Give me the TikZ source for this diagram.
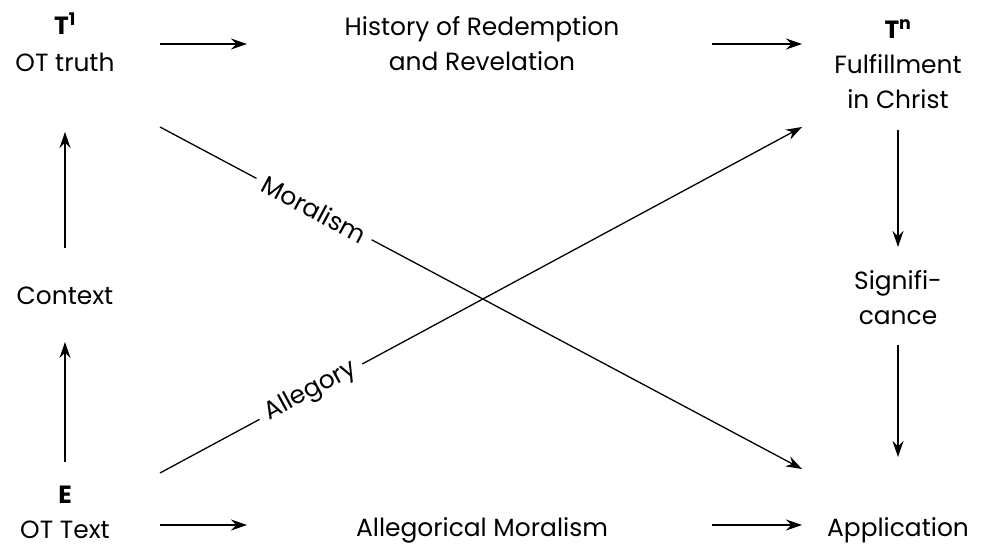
\documentclass[tikz,border=0pt]{standalone}
\usepackage{fontspec}
\setmainfont{Poppins}
\usetikzlibrary{arrows.meta}
\begin{document}
\begin{tikzpicture}[x=1bp,y=-1bp,
  lbl/.style={font=\fontsize{25}{35}\selectfont, align=center, inner sep=2pt},
  arr/.style={line width=1.3bp, -{Stealth[length=16bp,width=11bp]}},
  ln/.style={line width=1.3bp}]
\useasboundingbox (0,0) rectangle (990,559);
\node[lbl] (t1) at (65,42) {\textbf{T\textsuperscript{1}}\\[2pt]OT truth};
\node[lbl] (hist) at (482,44) {History of Redemption\\and Revelation};
\node[lbl] (tn) at (898,64) {\textbf{T\textsuperscript{n}}\\Fulfillment\\in Christ};
\node[lbl] (ctx) at (65,296) {Context};
\node[lbl] (e) at (65,512) {\textbf{E}\\OT Text};
\node[lbl] (am) at (482,530) {Allegorical Moralism};
\node[lbl] (app) at (898,530) {Application};
\node[lbl] (sig) at (898,298) {Signifi-\\cance};
\coordinate (a1) at (160,44); \coordinate (a2) at (247,44);
\coordinate (b1) at (712,44); \coordinate (b2) at (802,44);
\coordinate (c1) at (65,248); \coordinate (c2) at (65,132);
\coordinate (d1) at (65,462); \coordinate (d2) at (65,342);
\coordinate (f1) at (898,130); \coordinate (f2) at (898,247);
\coordinate (g1) at (898,345); \coordinate (g2) at (898,457);
\coordinate (h1) at (160,525); \coordinate (h2) at (247,525);
\coordinate (i1) at (712,525); \coordinate (i2) at (802,525);
\coordinate (m1) at (160,127); \coordinate (m2) at (802,469);
\coordinate (l1) at (160,473); \coordinate (l2) at (802,127);
\foreach \p/\q in {a1/a2,b1/b2,c1/c2,d1/d2,f1/f2,g1/g2,h1/h2,i1/i2}
  \draw[arr] (\p) -- (\q);
\draw[arr] (m1) -- node[pos=0.24, sloped, fill=white, lbl, inner xsep=8pt] {Moralism} (m2);
\draw[arr] (l1) -- node[pos=0.235, sloped, fill=white, lbl, inner xsep=8pt] {Allegory} (l2);
\end{tikzpicture}
\end{document}
